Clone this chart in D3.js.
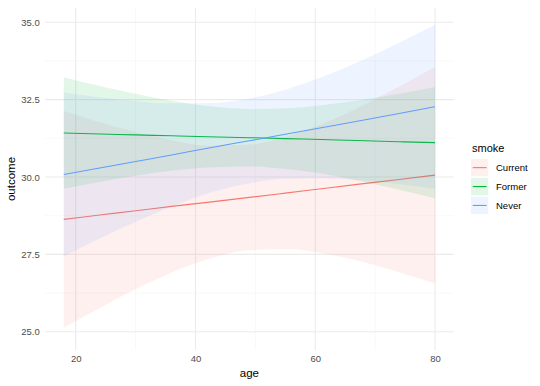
<!DOCTYPE html>
<html>
<head>
<meta charset="utf-8">
<script src="https://cdn.jsdelivr.net/npm/d3@7"></script>
<style>
  html, body { margin: 0; padding: 0; background: #fff; }
  svg { display: block; font-family: "Liberation Sans", Arial, sans-serif; }
</style>
</head>
<body>
<svg id="chart" width="540" height="386"></svg>
<script>
// ---- data ----
const groups = ["Current", "Former", "Never"];
const colors = ["#F8766D", "#00BA38", "#619CFF"];
const ages = [18, 24, 30, 36, 42, 49, 55, 61, 67, 74, 80];

const currentFit   = [28.63, 28.77, 28.91, 29.05, 29.18, 29.34, 29.48, 29.62, 29.76, 29.92, 30.06];
const currentLower = [25.13, 25.77, 26.37, 26.91, 27.34, 27.63, 27.67, 27.54, 27.30, 26.92, 26.56];
const currentUpper = [32.13, 31.77, 31.45, 31.19, 31.02, 31.05, 31.29, 31.70, 32.22, 32.92, 33.56];

const formerFit    = [31.42, 31.39, 31.36, 31.33, 31.30, 31.27, 31.24, 31.21, 31.18, 31.14, 31.11];
const formerLower  = [29.62, 29.84, 30.04, 30.20, 30.31, 30.34, 30.26, 30.11, 29.89, 29.59, 29.31];
const formerUpper  = [33.22, 32.94, 32.69, 32.46, 32.29, 32.20, 32.22, 32.32, 32.47, 32.69, 32.91];

const neverFit     = [30.08, 30.29, 30.50, 30.71, 30.93, 31.17, 31.38, 31.59, 31.80, 32.05, 32.27];
const neverLower   = [27.43, 28.01, 28.55, 29.04, 29.47, 29.80, 29.94, 29.96, 29.90, 29.77, 29.62];
const neverUpper   = [32.73, 32.58, 32.45, 32.38, 32.39, 32.54, 32.82, 33.22, 33.70, 34.34, 34.92];

const xTicks = [20, 40, 60, 80];
const xMinor = [30, 50, 70];
const yTicks = [25.0, 27.5, 30.0, 32.5, 35.0];
const yMinor = [26.25, 28.75, 31.25, 33.75];

const series = [
  { name: groups[0], color: colors[0], fit: currentFit, lo: currentLower, hi: currentUpper },
  { name: groups[1], color: colors[1], fit: formerFit,  lo: formerLower,  hi: formerUpper },
  { name: groups[2], color: colors[2], fit: neverFit,   lo: neverLower,   hi: neverUpper }
];

// ---- layout ----
const panel = { left: 45.2, right: 453.6, top: 8, bottom: 350 };
const x = d3.scaleLinear().domain([14.9, 83.1]).range([panel.left, panel.right]);
const y = d3.scaleLinear().domain([24.41, 35.46]).range([panel.bottom, panel.top]);

const svg = d3.select("#chart");

// grid
const grid = svg.append("g");
grid.selectAll(".xminor").data(xMinor).enter().append("line")
  .attr("x1", d => x(d)).attr("x2", d => x(d))
  .attr("y1", panel.top).attr("y2", panel.bottom)
  .attr("stroke", "#f3f3f3").attr("stroke-width", 0.6);
grid.selectAll(".yminor").data(yMinor).enter().append("line")
  .attr("x1", panel.left).attr("x2", panel.right)
  .attr("y1", d => y(d)).attr("y2", d => y(d))
  .attr("stroke", "#f3f3f3").attr("stroke-width", 0.6);
grid.selectAll(".xmajor").data(xTicks).enter().append("line")
  .attr("x1", d => x(d)).attr("x2", d => x(d))
  .attr("y1", panel.top).attr("y2", panel.bottom)
  .attr("stroke", "#ebebeb").attr("stroke-width", 1.1);
grid.selectAll(".ymajor").data(yTicks).enter().append("line")
  .attr("x1", panel.left).attr("x2", panel.right)
  .attr("y1", d => y(d)).attr("y2", d => y(d))
  .attr("stroke", "#ebebeb").attr("stroke-width", 1.1);

// ribbons + lines
const area = d3.area()
  .x((d, i) => x(ages[i]))
  .y0(d => y(d[0]))
  .y1(d => y(d[1]))
  .curve(d3.curveMonotoneX);
const line = d3.line()
  .x((d, i) => x(ages[i]))
  .y(d => y(d))
  .curve(d3.curveMonotoneX);

const marks = svg.append("g");
series.forEach(s => {
  const band = s.lo.map((v, i) => [v, s.hi[i]]);
  marks.append("path")
    .attr("d", area(band))
    .attr("fill", s.color)
    .attr("fill-opacity", 0.11);
  marks.append("path")
    .attr("d", line(s.fit))
    .attr("fill", "none")
    .attr("stroke", s.color)
    .attr("stroke-width", 1.1);
});

// axes (text only, theme_minimal)
const xAxis = d3.axisBottom(x).tickValues(xTicks).tickFormat(d3.format("d")).tickSize(0).tickPadding(0);
const gx = svg.append("g").attr("transform", `translate(0,${panel.bottom + 5})`).call(xAxis);
gx.select(".domain").remove();
gx.selectAll("text").attr("fill", "#4d4d4d").style("font-size", "9.5px")
  .attr("dy", "0.71em");

const yAxis = d3.axisLeft(y).tickValues(yTicks).tickFormat(d3.format(".1f")).tickSize(0).tickPadding(0);
const gy = svg.append("g").attr("transform", `translate(${panel.left - 5.5},0)`).call(yAxis);
gy.select(".domain").remove();
gy.selectAll("text").attr("fill", "#4d4d4d").style("font-size", "9.5px");

// axis titles
svg.append("text")
  .attr("x", (panel.left + panel.right) / 2).attr("y", 377)
  .attr("text-anchor", "middle")
  .style("font-size", "11.5px").attr("fill", "#000")
  .text("age");
svg.append("text")
  .attr("transform", `translate(15,${(panel.top + panel.bottom) / 2}) rotate(-90)`)
  .attr("text-anchor", "middle")
  .style("font-size", "11.5px").attr("fill", "#000")
  .text("outcome");

// legend
const legend = svg.append("g").attr("transform", "translate(471,0)");
legend.append("text")
  .attr("x", 1).attr("y", 152)
  .style("font-size", "11px").attr("fill", "#000")
  .text("smoke");
const keys = legend.selectAll(".key").data(series).enter().append("g")
  .attr("transform", (d, i) => `translate(0,${159 + i * 18.9})`);
keys.append("rect")
  .attr("x", 0).attr("y", 0).attr("width", 17.3).attr("height", 17.3)
  .attr("fill", d => d.color).attr("fill-opacity", 0.11);
keys.append("line")
  .attr("x1", 1.7).attr("x2", 15.6).attr("y1", 8.65).attr("y2", 8.65)
  .attr("stroke", d => d.color).attr("stroke-width", 1.1);
keys.append("text")
  .attr("x", 25).attr("y", 8.65).attr("dy", "0.35em")
  .style("font-size", "9.5px").attr("fill", "#000")
  .text(d => d.name);
</script>
</body>
</html>
